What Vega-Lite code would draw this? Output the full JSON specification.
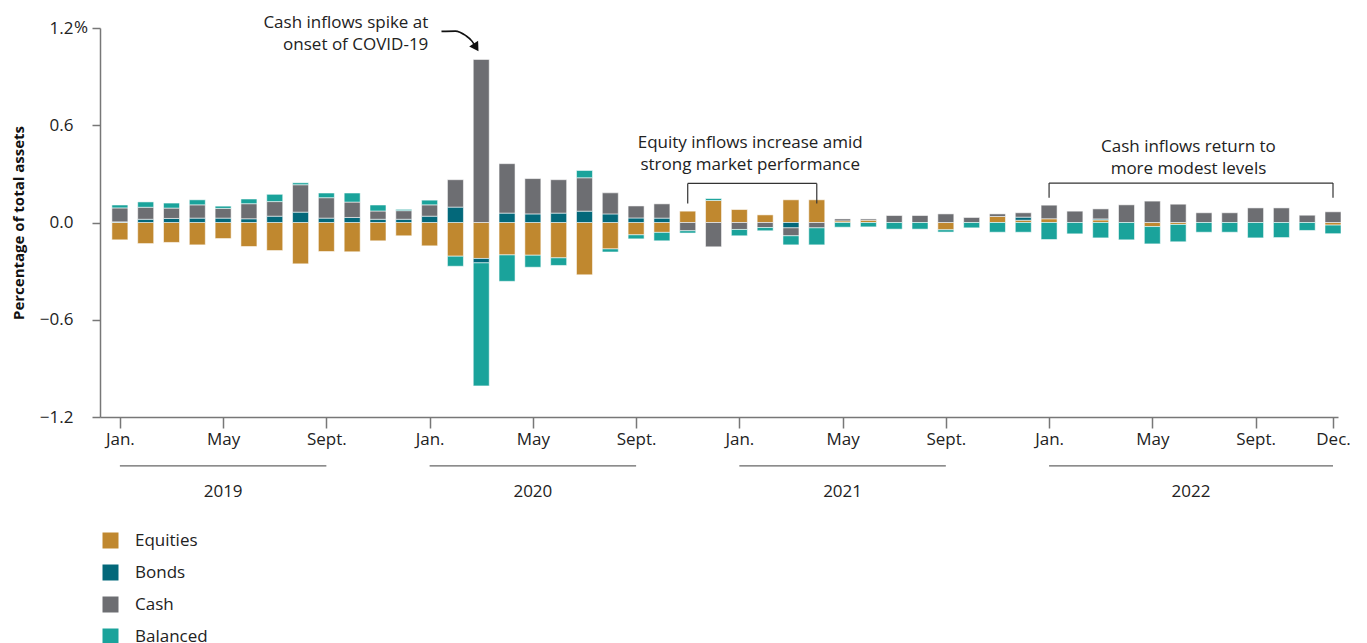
{
  "$schema": "https://vega.github.io/schema/vega-lite/v6.json",
  "width": 1238,
  "height": 389,
  "autosize": {"type": "none"},
  "padding": {"left": 100, "top": 28, "right": 29, "bottom": 226},
  "background": "white",
  "config": {"font": "Open Sans", "view": {"stroke": null}},
  "datasets": {
    "flows": [
      {"i": 0, "month": "2019-01", "Equities": -0.107, "Bonds": 0.004, "Cash": 0.086, "Balanced": 0.018},
      {"i": 1, "month": "2019-02", "Equities": -0.13, "Bonds": 0.02, "Cash": 0.074, "Balanced": 0.033},
      {"i": 2, "month": "2019-03", "Equities": -0.123, "Bonds": 0.025, "Cash": 0.064, "Balanced": 0.031},
      {"i": 3, "month": "2019-04", "Equities": -0.138, "Bonds": 0.027, "Cash": 0.082, "Balanced": 0.031},
      {"i": 4, "month": "2019-05", "Equities": -0.099, "Bonds": 0.027, "Cash": 0.06, "Balanced": 0.014},
      {"i": 5, "month": "2019-06", "Equities": -0.148, "Bonds": 0.023, "Cash": 0.093, "Balanced": 0.029},
      {"i": 6, "month": "2019-07", "Equities": -0.173, "Bonds": 0.039, "Cash": 0.09, "Balanced": 0.045},
      {"i": 7, "month": "2019-08", "Equities": -0.255, "Bonds": 0.064, "Cash": 0.169, "Balanced": 0.012},
      {"i": 8, "month": "2019-09", "Equities": -0.179, "Bonds": 0.027, "Cash": 0.126, "Balanced": 0.029},
      {"i": 9, "month": "2019-10", "Equities": -0.181, "Bonds": 0.031, "Cash": 0.095, "Balanced": 0.056},
      {"i": 10, "month": "2019-11", "Equities": -0.113, "Bonds": 0.02, "Cash": 0.051, "Balanced": 0.037},
      {"i": 11, "month": "2019-12", "Equities": -0.082, "Bonds": 0.02, "Cash": 0.053, "Balanced": 0.008},
      {"i": 12, "month": "2020-01", "Equities": -0.144, "Bonds": 0.039, "Cash": 0.07, "Balanced": 0.029},
      {"i": 13, "month": "2020-02", "Equities": -0.208, "Bonds": 0.095, "Cash": 0.169, "Balanced": -0.062},
      {"i": 14, "month": "2020-03", "Equities": -0.222, "Bonds": -0.027, "Cash": 1.006, "Balanced": -0.759},
      {"i": 15, "month": "2020-04", "Equities": -0.2, "Bonds": 0.058, "Cash": 0.305, "Balanced": -0.163},
      {"i": 16, "month": "2020-05", "Equities": -0.202, "Bonds": 0.053, "Cash": 0.218, "Balanced": -0.074},
      {"i": 17, "month": "2020-06", "Equities": -0.218, "Bonds": 0.058, "Cash": 0.206, "Balanced": -0.047},
      {"i": 18, "month": "2020-07", "Equities": -0.323, "Bonds": 0.07, "Cash": 0.206, "Balanced": 0.045},
      {"i": 19, "month": "2020-08", "Equities": -0.163, "Bonds": 0.053, "Cash": 0.13, "Balanced": -0.019},
      {"i": 20, "month": "2020-09", "Equities": -0.076, "Bonds": 0.028, "Cash": 0.074, "Balanced": -0.025},
      {"i": 21, "month": "2020-10", "Equities": -0.061, "Bonds": 0.027, "Cash": 0.088, "Balanced": -0.052},
      {"i": 22, "month": "2020-11", "Equities": 0.07, "Bonds": 0, "Cash": -0.051, "Balanced": -0.014},
      {"i": 23, "month": "2020-12", "Equities": 0.136, "Bonds": 0, "Cash": -0.15, "Balanced": 0.012},
      {"i": 24, "month": "2021-01", "Equities": 0.08, "Bonds": 0, "Cash": -0.043, "Balanced": -0.039},
      {"i": 25, "month": "2021-02", "Equities": 0.047, "Bonds": 0, "Cash": -0.031, "Balanced": -0.02},
      {"i": 26, "month": "2021-03", "Equities": 0.14, "Bonds": -0.033, "Cash": -0.049, "Balanced": -0.056},
      {"i": 27, "month": "2021-04", "Equities": 0.14, "Bonds": 0, "Cash": -0.033, "Balanced": -0.105},
      {"i": 28, "month": "2021-05", "Equities": 0.01, "Bonds": 0, "Cash": 0.012, "Balanced": -0.029},
      {"i": 29, "month": "2021-06", "Equities": 0.014, "Bonds": 0, "Cash": 0.008, "Balanced": -0.027},
      {"i": 30, "month": "2021-07", "Equities": 0, "Bonds": 0, "Cash": 0.043, "Balanced": -0.041},
      {"i": 31, "month": "2021-08", "Equities": 0, "Bonds": 0, "Cash": 0.043, "Balanced": -0.041},
      {"i": 32, "month": "2021-09", "Equities": -0.045, "Bonds": 0, "Cash": 0.053, "Balanced": -0.014},
      {"i": 33, "month": "2021-10", "Equities": 0, "Bonds": 0, "Cash": 0.031, "Balanced": -0.033},
      {"i": 34, "month": "2021-11", "Equities": 0.037, "Bonds": 0, "Cash": 0.016, "Balanced": -0.06},
      {"i": 35, "month": "2021-12", "Equities": 0.014, "Bonds": 0.019, "Cash": 0.027, "Balanced": -0.06},
      {"i": 36, "month": "2022-01", "Equities": 0.023, "Bonds": 0, "Cash": 0.084, "Balanced": -0.105},
      {"i": 37, "month": "2022-02", "Equities": 0, "Bonds": 0, "Cash": 0.07, "Balanced": -0.07},
      {"i": 38, "month": "2022-03", "Equities": 0.016, "Bonds": 0.006, "Cash": 0.062, "Balanced": -0.095},
      {"i": 39, "month": "2022-04", "Equities": 0, "Bonds": 0, "Cash": 0.109, "Balanced": -0.107},
      {"i": 40, "month": "2022-05", "Equities": -0.025, "Bonds": 0, "Cash": 0.132, "Balanced": -0.107},
      {"i": 41, "month": "2022-06", "Equities": -0.012, "Bonds": 0, "Cash": 0.113, "Balanced": -0.107},
      {"i": 42, "month": "2022-07", "Equities": 0, "Bonds": 0, "Cash": 0.06, "Balanced": -0.06},
      {"i": 43, "month": "2022-08", "Equities": 0, "Bonds": 0, "Cash": 0.06, "Balanced": -0.06},
      {"i": 44, "month": "2022-09", "Equities": 0, "Bonds": 0, "Cash": 0.09, "Balanced": -0.095},
      {"i": 45, "month": "2022-10", "Equities": 0, "Bonds": 0, "Cash": 0.09, "Balanced": -0.093},
      {"i": 46, "month": "2022-11", "Equities": 0, "Bonds": 0, "Cash": 0.045, "Balanced": -0.049},
      {"i": 47, "month": "2022-12", "Equities": -0.016, "Bonds": 0, "Cash": 0.066, "Balanced": -0.053}
    ],
    "types": [
      {"type": "Equities", "rank": 0},
      {"type": "Bonds", "rank": 1},
      {"type": "Cash", "rank": 2},
      {"type": "Balanced", "rank": 3}
    ],
    "segs": [
      {"kind": "bracket", "x1": 22, "x2": 27, "y1": 0.241, "y2": 0.241},
      {"kind": "bracket", "x1": 22, "x2": 22, "y1": 0.117, "y2": 0.241},
      {"kind": "bracket", "x1": 27, "x2": 27, "y1": 0.117, "y2": 0.241},
      {"kind": "bracket", "x1": 36, "x2": 47, "y1": 0.243, "y2": 0.243},
      {"kind": "bracket", "x1": 36, "x2": 36, "y1": 0.153, "y2": 0.243},
      {"kind": "bracket", "x1": 47, "x2": 47, "y1": 0.153, "y2": 0.243},
      {"kind": "year", "x1": 0, "x2": 8, "y1": -1.502, "y2": -1.502},
      {"kind": "year", "x1": 12, "x2": 20, "y1": -1.502, "y2": -1.502},
      {"kind": "year", "x1": 24, "x2": 32, "y1": -1.502, "y2": -1.502},
      {"kind": "year", "x1": 36, "x2": 47, "y1": -1.502, "y2": -1.502}
    ],
    "notes": [
      {"group": "covid", "t": 11.95, "y": 1.1975, "text": "Cash inflows spike at"},
      {"group": "covid", "t": 11.95, "y": 1.0617, "text": "onset of COVID-19"},
      {"group": "center", "t": 24.42, "y": 0.461, "text": "Equity inflows increase amid"},
      {"group": "center", "t": 24.42, "y": 0.325, "text": "strong market performance"},
      {"group": "center", "t": 41.4, "y": 0.434, "text": "Cash inflows return to"},
      {"group": "center", "t": 41.4, "y": 0.3, "text": "more modest levels"},
      {"group": "year", "t": 4, "y": -1.691, "text": "2019"},
      {"group": "year", "t": 16, "y": -1.691, "text": "2020"},
      {"group": "year", "t": 28, "y": -1.691, "text": "2021"},
      {"group": "year", "t": 41.5, "y": -1.691, "text": "2022"},
      {"group": "pct", "t": -0.5765, "y": 1.2, "text": "%"}
    ],
    "arrow": [
      {"t": 12.46, "y": 1.179},
      {"t": 13.0, "y": 1.181},
      {"t": 13.39, "y": 1.154},
      {"t": 13.64, "y": 1.119},
      {"t": 13.74, "y": 1.095}
    ],
    "head": [
      {"t": 13.80, "y": 1.08}
    ]
  },
  "layer": [
    {
      "data": {"name": "flows"},
      "transform": [
        {"fold": ["Equities", "Bonds", "Cash", "Balanced"], "as": ["type", "value"]},
        {"filter": "datum.value != 0"},
        {"lookup": "type", "from": {"data": {"name": "types"}, "key": "type", "fields": ["rank"]}}
      ],
      "mark": {"type": "bar", "orient": "vertical", "width": 16, "stroke": "#ffffff", "strokeOpacity": 0.55, "strokeWidth": 1},
      "encoding": {
        "x": {
          "field": "i", "type": "quantitative",
          "scale": {"domain": [-0.5765, 47], "nice": false, "zero": false},
          "axis": {
            "values": [0, 4, 8, 12, 16, 20, 24, 28, 32, 36, 40, 44, 47],
            "labelExpr": "datum.value % 12 == 0 ? 'Jan.' : datum.value % 12 == 4 ? 'May' : datum.value % 12 == 8 ? 'Sept.' : 'Dec.'",
            "title": null, "grid": false,
            "domainColor": "#777777", "domainWidth": 1.5,
            "tickColor": "#777777", "tickWidth": 1.5, "tickSize": 11,
            "labelPadding": 3, "labelFontSize": 17, "labelColor": "#222222",
            "labelFlush": false, "labelOverlap": false
          }
        },
        "y": {
          "field": "value", "type": "quantitative", "stack": "zero",
          "scale": {"domain": [-1.2, 1.2], "nice": false},
          "axis": {
            "values": [-1.2, -0.6, 0, 0.6, 1.2],
            "labelExpr": "replace(format(datum.value, '.1f'), '-', '\u2212')",
            "title": "Percentage of total assets",
            "titleFontWeight": "bold", "titleFontSize": 15, "titleColor": "#111111", "titlePadding": 13,
            "grid": false,
            "domainColor": "#777777", "domainWidth": 1.5,
            "tickColor": "#777777", "tickWidth": 1.5, "tickSize": 8,
            "labelPadding": 19, "labelFontSize": 17, "labelColor": "#222222"
          }
        },
        "color": {
          "field": "type", "type": "nominal",
          "sort": ["Equities", "Bonds", "Cash", "Balanced"],
          "scale": {
            "domain": ["Equities", "Bonds", "Cash", "Balanced"],
            "range": ["#C0882F", "#03687A", "#6D6E72", "#1AA39B"]
          },
          "legend": {
            "orient": "none", "legendX": 2, "legendY": 504, "direction": "vertical",
            "title": null, "symbolType": "square", "symbolSize": 256, "symbolStrokeWidth": 0,
            "symbolOpacity": 1,
            "labelFontSize": 17, "labelColor": "#222222", "rowPadding": 14, "labelOffset": 16, "padding": 0
          }
        },
        "order": {"field": "rank", "type": "quantitative", "sort": "ascending"}
      }
    },
    {
      "mark": {"type": "rule", "color": "#111111", "strokeWidth": 1.5},
      "encoding": {"y": {"datum": 0}, "x": {"datum": -0.5765}, "x2": {"datum": 47.45}}
    },
    {
      "data": {"name": "segs"},
      "transform": [{"filter": "datum.kind == 'bracket'"}],
      "mark": {"type": "rule", "color": "#333333", "strokeWidth": 1.2},
      "encoding": {
        "x": {"field": "x1", "type": "quantitative"}, "x2": {"field": "x2"},
        "y": {"field": "y1", "type": "quantitative"}, "y2": {"field": "y2"}
      }
    },
    {
      "data": {"name": "segs"},
      "transform": [{"filter": "datum.kind == 'year'"}],
      "mark": {"type": "rule", "color": "#666666", "strokeWidth": 1.2},
      "encoding": {
        "x": {"field": "x1", "type": "quantitative"}, "x2": {"field": "x2"},
        "y": {"field": "y1", "type": "quantitative"}, "y2": {"field": "y2"}
      }
    },
    {
      "data": {"name": "notes"},
      "transform": [{"filter": "datum.group == 'covid'"}],
      "mark": {"type": "text", "align": "right", "baseline": "alphabetic", "fontSize": 17, "color": "#222222"},
      "encoding": {
        "x": {"field": "t", "type": "quantitative"},
        "y": {"field": "y", "type": "quantitative"},
        "text": {"field": "text"}
      }
    },
    {
      "data": {"name": "notes"},
      "transform": [{"filter": "datum.group == 'center' || datum.group == 'year'"}],
      "mark": {"type": "text", "align": "center", "baseline": "alphabetic", "fontSize": 17, "color": "#222222"},
      "encoding": {
        "x": {"field": "t", "type": "quantitative"},
        "y": {"field": "y", "type": "quantitative"},
        "text": {"field": "text"}
      }
    },
    {
      "data": {"name": "notes"},
      "transform": [{"filter": "datum.group == 'pct'"}],
      "mark": {"type": "text", "align": "left", "baseline": "middle", "fontSize": 17, "color": "#222222", "dx": -31},
      "encoding": {
        "x": {"field": "t", "type": "quantitative"},
        "y": {"field": "y", "type": "quantitative"},
        "text": {"field": "text"}
      }
    },
    {
      "data": {"name": "arrow"},
      "mark": {"type": "line", "color": "#111111", "strokeWidth": 1.6, "interpolate": "monotone"},
      "encoding": {
        "x": {"field": "t", "type": "quantitative"},
        "y": {"field": "y", "type": "quantitative"}
      }
    },
    {
      "data": {"name": "head"},
      "mark": {"type": "point", "shape": "triangle-up", "filled": true, "color": "#111111", "opacity": 1, "size": 110, "angle": 148},
      "encoding": {
        "x": {"field": "t", "type": "quantitative"},
        "y": {"field": "y", "type": "quantitative"}
      }
    }
  ]
}
